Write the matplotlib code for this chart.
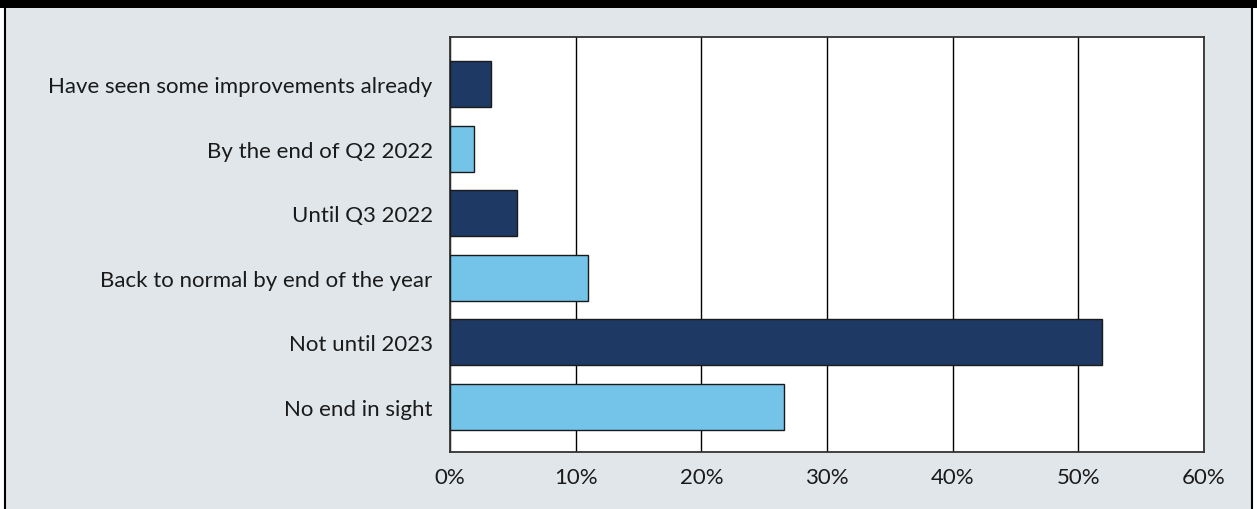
import matplotlib.pyplot as plt
from matplotlib.patches import Rectangle
from matplotlib.ticker import FuncFormatter

# Survey answers, top to bottom
answers = [
    'Have seen some improvements already',
    'By the end of Q2 2022',
    'Until Q3 2022',
    'Back to normal by end of the year',
    'Not until 2023',
    'No end in sight',
]
shares = [3.3, 1.9, 5.3, 11.0, 51.9, 26.6]
x_ticks = [0, 10, 20, 30, 40, 50, 60]

navy = '#1e3964'
sky = '#74c3e8'
panel = '#e1e6ea'

plt.rcParams['font.family'] = ['Lato', 'DejaVu Sans']

W, H = 1257, 510
fig = plt.figure(figsize=(W / 100, H / 100), dpi=100)
fig.patch.set_facecolor('white')

# Grey panel with black frame and black band on top
fig.patches.append(Rectangle((5 / W, -0.02), (1252 - 5) / W, 1.05, transform=fig.transFigure,
                             facecolor=panel, edgecolor='black', linewidth=1.5, zorder=-3))
fig.patches.append(Rectangle((0, (H - 9) / H), 1, 9 / H, transform=fig.transFigure,
                             facecolor='black', edgecolor='none', zorder=-2))

ax = fig.add_axes([450 / W, 57 / H, (1204 - 450) / W, (453 - 38) / H])
ax.set_facecolor('white')

ypos = list(range(len(answers)))
colors = [navy if i % 2 == 0 else sky for i in ypos]
ax.barh(ypos, shares, height=0.71, color=colors, edgecolor='#1a1a1a', linewidth=1.0, zorder=3)

ax.set_xlim(0, 60)
ax.set_ylim(5.70, -0.73)
ax.set_xticks(x_ticks)
ax.xaxis.set_major_formatter(FuncFormatter(lambda v, _: f'{v:.0f}%'))
ax.set_yticks(ypos)
ax.set_yticklabels(answers)
ax.grid(axis='x', color='black', linewidth=1.0, zorder=1)
ax.tick_params(axis='both', length=0, labelsize=16, colors='#1a1a1a')
ax.tick_params(axis='y', pad=12.5)
ax.tick_params(axis='x', pad=11)
for s in ax.spines.values():
    s.set_color('#333333')
    s.set_linewidth(1.3)

fig.savefig('out.png', dpi=100, facecolor=fig.get_facecolor())
